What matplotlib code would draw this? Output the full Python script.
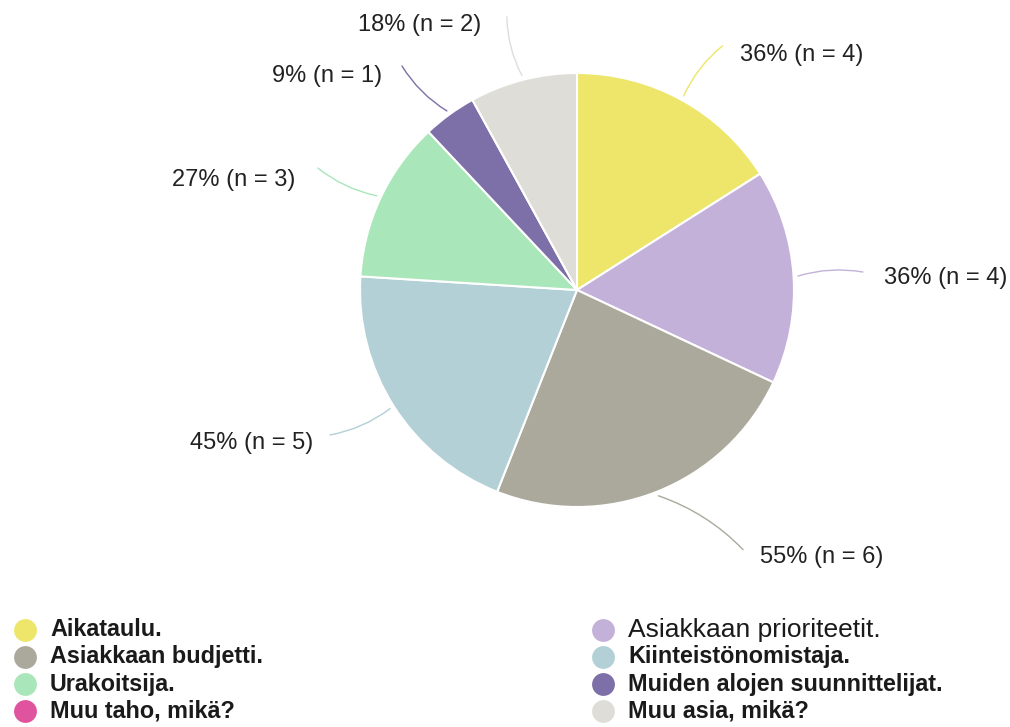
import numpy as np
import matplotlib
matplotlib.use("Agg")
import matplotlib.pyplot as plt

# vastaukset (n), vastaajia yhteensä 11
luokat = ["Aikataulu.", "Asiakkaan prioriteetit.", "Asiakkaan budjetti.",
          "Kiinteistönomistaja.", "Urakoitsija.", "Muiden alojen suunnittelijat.",
          "Muu taho, mikä?", "Muu asia, mikä?"]
n_arvot = [4, 4, 6, 5, 3, 1, 0, 2]
vastaajia = 11
varit = ["#EDE66B", "#C4B1DA", "#ABA89C", "#B2D0D5",
         "#A9E6B9", "#7D6FA7", "#DF539F", "#DFDDD7"]

# legendan järjestys: vasen sarake / oikea sarake
legenda_vasen = [0, 2, 4, 6]
legenda_oikea = [1, 3, 5, 7]

# asettelu (pikseleinä)
KESKI = (577, 727 - 290)
SADE = 217
viiva_r = [1.31, 1.32, 1.42, 1.32, 1.32, 1.31, 1.3, 1.3]
viiva_kulma = [2, 0, -11, 2, 0, -2, 0, 0]
teksti_dx = [17, 21, 17, -17, -22, -20, 0, -26]
teksti_dy = [-9, -6, -7, -8, -12, -10, 0, -8]

plt.rcParams["font.family"] = ["Liberation Sans", "DejaVu Sans"]

fig = plt.figure(figsize=(10.10, 7.27), dpi=100)
ax = fig.add_axes([0, 0, 1, 1])

wedges, _ = ax.pie(n_arvot, colors=varit, startangle=90, counterclock=False,
                   center=KESKI, radius=SADE, frame=True,
                   wedgeprops=dict(edgecolor="white", linewidth=1.5))
ax.set_xlim(0, 1010)
ax.set_ylim(0, 727)
ax.set_aspect("equal")
ax.axis("off")

for i, (w, n) in enumerate(zip(wedges, n_arvot)):
    if n == 0:
        continue
    kulma = np.deg2rad((w.theta1 + w.theta2) / 2)
    kulma_v = np.deg2rad((w.theta1 + w.theta2) / 2 - viiva_kulma[i])
    x0 = KESKI[0] + SADE * 1.02 * np.cos(kulma)
    y0 = KESKI[1] + SADE * 1.02 * np.sin(kulma)
    x1 = KESKI[0] + SADE * viiva_r[i] * np.cos(kulma_v)
    y1 = KESKI[1] + SADE * viiva_r[i] * np.sin(kulma_v)
    ax.annotate("", xy=(x0, y0), xytext=(x1, y1),
                arrowprops=dict(arrowstyle="-", color=varit[i], lw=1.0,
                                connectionstyle="arc3,rad=0.12",
                                shrinkA=0, shrinkB=0))
    ha = "left" if teksti_dx[i] > 0 else "right"
    pros = round(100 * n / vastaajia)
    ax.text(x1 + teksti_dx[i], y1 + teksti_dy[i], f"{pros}% (n = {n})",
            ha=ha, va="center", fontsize=17, color="#222222")

# legenda
rivi_y = [727 - 630, 727 - 657, 727 - 684, 727 - 711]
for sarake, (idx, mx) in enumerate([(legenda_vasen, 25), (legenda_oikea, 603)]):
    for r, i in enumerate(idx):
        ax.scatter([mx], [rivi_y[r]], s=270, color=varit[i], marker="o",
                   linewidths=0)
        paino = "normal" if i == 1 else "bold"
        koko = 19 if i == 1 else 16.8
        ax.text(mx + 25, rivi_y[r], luokat[i], ha="left", va="center",
                fontsize=koko, fontweight=paino, color="#1a1a1a")

fig.savefig("out.png", dpi=100)
